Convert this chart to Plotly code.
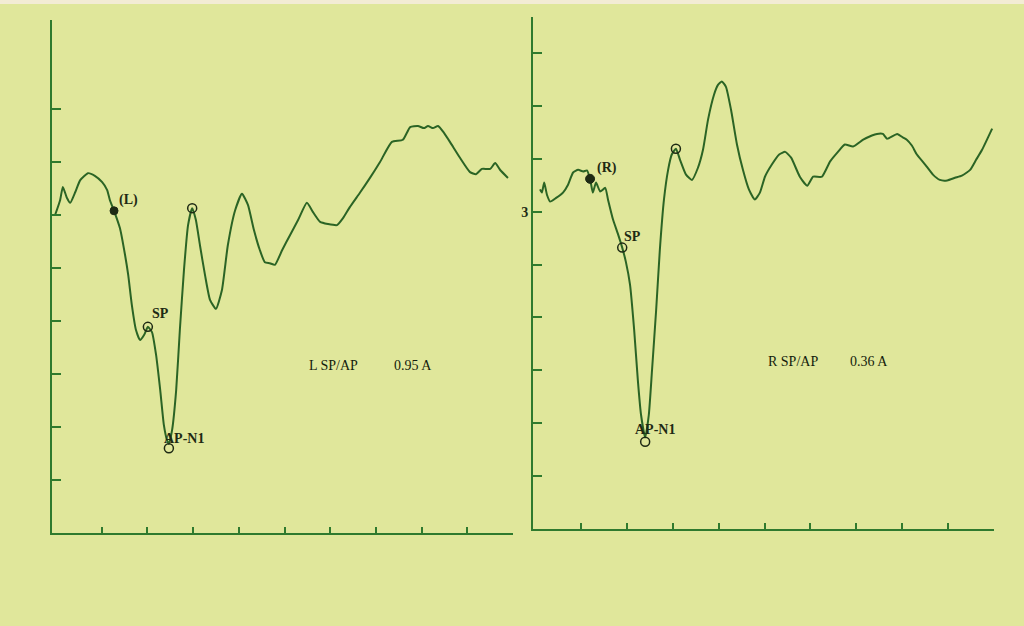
import plotly.graph_objects as go

# ---- data (time in ms, amplitude in arbitrary units) ----
left_x = [-0.02, 0.09, 0.15, 0.24, 0.31, 0.42, 0.53, 0.70, 0.85, 1.01, 1.12, 1.18, 1.27, 1.40, 1.51, 1.58,
          1.66, 1.75, 1.84, 1.93, 2.01, 2.10, 2.19, 2.28, 2.36, 2.43, 2.47, 2.54, 2.63, 2.71, 2.80, 2.89,
          2.98, 3.06, 3.15, 3.26, 3.37, 3.50, 3.63, 3.76, 3.92, 4.07, 4.20, 4.33, 4.46, 4.57, 4.68, 4.79,
          4.95, 5.12, 5.30, 5.49, 5.62, 5.78, 5.95, 6.15, 6.28, 6.43, 6.65, 6.87, 7.09, 7.35, 7.59, 7.75,
          7.92, 8.05, 8.14, 8.25, 8.36, 8.49, 8.62, 8.84, 9.06, 9.19, 9.32, 9.50, 9.61, 9.72, 9.89]
left_y = [3.00, 3.28, 3.53, 3.32, 3.23, 3.43, 3.66, 3.79, 3.74, 3.62, 3.47, 3.28, 3.08, 2.75, 2.25, 1.87,
          1.30, 0.83, 0.64, 0.74, 0.89, 0.79, 0.36, -0.30, -0.96, -1.25, -1.32, -1.06, -0.30, 0.83, 1.96, 2.81,
          3.13, 2.91, 2.43, 1.87, 1.40, 1.23, 1.58, 2.43, 3.09, 3.40, 3.19, 2.72, 2.34, 2.11, 2.09, 2.06,
          2.34, 2.62, 2.91, 3.23, 3.06, 2.87, 2.83, 2.81, 2.94, 3.15, 3.42, 3.70, 4.00, 4.38, 4.42, 4.66,
          4.68, 4.64, 4.68, 4.64, 4.68, 4.55, 4.38, 4.08, 3.81, 3.77, 3.87, 3.87, 3.98, 3.85, 3.70]

right_x = [0.11, 0.15, 0.20, 0.26, 0.33, 0.46, 0.61, 0.72, 0.83, 0.94, 1.05, 1.13, 1.20, 1.26, 1.33, 1.42,
           1.53, 1.59, 1.70, 1.81, 1.90, 1.98, 2.07, 2.16, 2.24, 2.31, 2.40, 2.48, 2.55, 2.64, 2.72, 2.81,
           2.90, 2.98, 3.07, 3.16, 3.29, 3.42, 3.55, 3.66, 3.77, 3.90, 3.99, 4.07, 4.16, 4.27, 4.40, 4.53,
           4.66, 4.79, 4.90, 5.01, 5.16, 5.32, 5.45, 5.58, 5.77, 5.93, 6.06, 6.25, 6.43, 6.60, 6.75, 6.93,
           7.15, 7.34, 7.45, 7.58, 7.67, 7.89, 8.02, 8.10, 8.21, 8.32, 8.50, 8.67, 8.82, 8.98, 9.15, 9.30,
           9.48, 9.61, 9.74, 9.96]
right_y = [3.42, 3.36, 3.55, 3.32, 3.19, 3.26, 3.36, 3.51, 3.74, 3.79, 3.76, 3.78, 3.62, 3.36, 3.55, 3.38,
           3.45, 3.23, 2.85, 2.57, 2.32, 2.05, 1.62, 0.77, -0.18, -0.84, -1.27, -0.84, 0.01, 1.15, 2.28, 3.23,
           3.79, 4.08, 4.19, 3.98, 3.70, 3.60, 3.83, 4.17, 4.74, 5.21, 5.40, 5.46, 5.36, 4.93, 4.27, 3.79,
           3.42, 3.23, 3.36, 3.66, 3.89, 4.08, 4.13, 4.02, 3.66, 3.49, 3.66, 3.66, 3.95, 4.13, 4.27, 4.23,
           4.36, 4.44, 4.47, 4.47, 4.38, 4.47, 4.40, 4.36, 4.25, 4.08, 3.89, 3.70, 3.60, 3.59, 3.64, 3.68,
           3.79, 3.98, 4.17, 4.57]

# marker points: [onset, SP, AP-N1, peak]
left_mark_x = [1.27, 2.01, 2.47, 2.98]
left_mark_y = [3.08, 0.89, -1.40, 3.13]
right_mark_x = [1.20, 1.90, 2.40, 3.07]
right_mark_y = [3.62, 2.32, -1.35, 4.19]
left_labels = ["(L)", "SP", "AP-N1"]
right_labels = ["(R)", "SP", "AP-N1"]
left_ratio = ["L SP/AP", "0.95 A"]
right_ratio = ["R SP/AP", "0.36 A"]

x_ticks = [1, 2, 3, 4, 5, 6, 7, 8, 9, 10]
left_y_ticks = [-2, -1, 0, 1, 2, 3, 4, 5]
right_y_ticks = [-2, -1, 0, 1, 2, 3, 4, 5, 6]
right_y_ticktext = ["", "", "", "", "", "<b>3</b>", "", "", ""]

BG = "#e0e79b"
LINE = "#2b6425"
AXIS = "#2f7a2e"
INK = "#1e2a14"
W, H = 1024, 626

fig = go.Figure()

fig.add_trace(go.Scatter(x=left_x, y=left_y, mode="lines", line=dict(color=LINE, width=2, shape="spline", smoothing=0.5),
                         xaxis="x", yaxis="y", showlegend=False, hoverinfo="skip"))
fig.add_trace(go.Scatter(x=right_x, y=right_y, mode="lines", line=dict(color=LINE, width=2, shape="spline", smoothing=0.5),
                         xaxis="x2", yaxis="y2", showlegend=False, hoverinfo="skip"))

# filled onset markers
fig.add_trace(go.Scatter(x=left_mark_x[:1], y=left_mark_y[:1], mode="markers",
                         marker=dict(size=8, color=INK, line=dict(color=INK, width=1)),
                         xaxis="x", yaxis="y", showlegend=False, hoverinfo="skip"))
fig.add_trace(go.Scatter(x=right_mark_x[:1], y=right_mark_y[:1], mode="markers",
                         marker=dict(size=9, color=INK, line=dict(color=INK, width=1)),
                         xaxis="x2", yaxis="y2", showlegend=False, hoverinfo="skip"))
# open markers
fig.add_trace(go.Scatter(x=left_mark_x[1:], y=left_mark_y[1:], mode="markers",
                         marker=dict(size=9, color="rgba(0,0,0,0)", line=dict(color=INK, width=1.5)),
                         xaxis="x", yaxis="y", showlegend=False, hoverinfo="skip"))
fig.add_trace(go.Scatter(x=right_mark_x[1:], y=right_mark_y[1:], mode="markers",
                         marker=dict(size=9, color="rgba(0,0,0,0)", line=dict(color=INK, width=1.5)),
                         xaxis="x2", yaxis="y2", showlegend=False, hoverinfo="skip"))

lab_font = dict(family="Liberation Serif", size=14, color=INK)

def add_labels(xref, yref, mx, my, labels, dx, dy):
    for i, t in enumerate(labels):
        fig.add_annotation(x=mx[i], y=my[i], xref=xref, yref=yref, text="<b>%s</b>" % t,
                           showarrow=False, xanchor="left", yanchor="middle",
                           xshift=dx[i], yshift=dy[i], font=lab_font)

add_labels("x", "y", left_mark_x, left_mark_y, left_labels, [3, 2, -7], [11, 13, 10])
add_labels("x2", "y2", right_mark_x, right_mark_y, right_labels, [5, 0, -12], [11, 11, 12])

ratio_font = dict(family="Liberation Serif", size=14, color="#141c0c")
fig.add_annotation(x=5.50, y=0.17, xref="x", yref="y", text=left_ratio[0], showarrow=False,
                   xanchor="left", font=ratio_font)
fig.add_annotation(x=7.35, y=0.17, xref="x", yref="y", text=left_ratio[1], showarrow=False,
                   xanchor="left", font=ratio_font)
fig.add_annotation(x=5.03, y=0.17, xref="x2", yref="y2", text=right_ratio[0], showarrow=False,
                   xanchor="left", font=ratio_font)
fig.add_annotation(x=6.82, y=0.17, xref="x2", yref="y2", text=right_ratio[1], showarrow=False,
                   xanchor="left", font=ratio_font)

def px_dom_x(a, b):
    return [a / W, b / W]

def px_dom_y(top, bottom):
    return [1 - bottom / H, 1 - top / H]

xcommon = dict(showgrid=False, zeroline=False, showline=True, linecolor=AXIS, linewidth=2,
               ticks="inside", ticklen=6, tickwidth=2, tickcolor=AXIS, tickvals=x_ticks,
               showticklabels=False, fixedrange=True)
ycommon = dict(showgrid=False, zeroline=False, showline=True, linecolor=AXIS, linewidth=2,
               ticks="inside", ticklen=9, tickwidth=2, tickcolor=AXIS, fixedrange=True)

fig.update_layout(
    width=W, height=H,
    margin=dict(l=0, r=0, t=0, b=0),
    paper_bgcolor=BG, plot_bgcolor=BG,
    xaxis=dict(domain=px_dom_x(52, 513), range=[-0.0875, 10], anchor="y", **xcommon),
    yaxis=dict(domain=px_dom_y(20, 533), range=[-3, 6.68], anchor="x", tickvals=left_y_ticks,
               showticklabels=False, **ycommon),
    xaxis2=dict(domain=px_dom_x(533, 994), range=[-0.0436, 10], anchor="y2", **xcommon),
    yaxis2=dict(domain=px_dom_y(17, 529), range=[-3, 6.68], anchor="x2", tickvals=right_y_ticks,
                ticktext=right_y_ticktext, showticklabels=True,
                tickfont=dict(family="Liberation Serif", size=14, color=INK), **ycommon),
    shapes=[dict(type="rect", xref="paper", yref="paper", x0=0, x1=1, y0=1 - 4 / H, y1=1,
                 fillcolor="#f3ecd4", line=dict(width=0), layer="below")],
)

fig.write_html("out.html", config={"displayModeBar": False},
               post_script="document.body.style.margin='0';document.body.style.overflow='hidden';")
